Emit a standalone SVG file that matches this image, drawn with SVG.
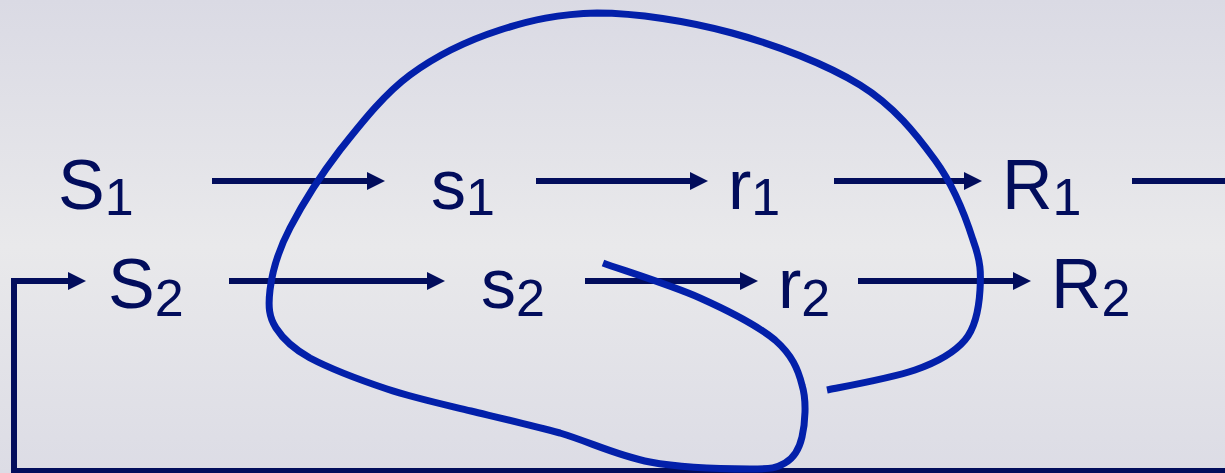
<svg xmlns="http://www.w3.org/2000/svg" width="1225" height="473" viewBox="0 0 1225 473">
  <defs>
    <linearGradient id="bg" x1="0" y1="0" x2="0" y2="1">
      <stop offset="0" stop-color="#dadae4"/>
      <stop offset="0.52" stop-color="#e9e9eb"/>
      <stop offset="1" stop-color="#dcdce5"/>
    </linearGradient>
    <marker id="ah" markerUnits="userSpaceOnUse" markerWidth="20" markerHeight="20" refX="1" refY="9" orient="auto">
      <path d="M0,0 L18,9 L0,18 z" fill="#020d5c"/>
    </marker>
    <style>
      .lbl { font-family: "Liberation Sans", Arial, sans-serif; font-size: 70px; fill: #020d5c; }
      .sub { font-size: 52px; }
      .conn { stroke: #020d5c; stroke-width: 6; fill: none; stroke-linejoin: miter; }
      .arr { marker-end: url(#ah); }
      .loop { stroke: #0320aa; stroke-width: 7; fill: none; stroke-linecap: butt; stroke-linejoin: round; }
    </style>
  </defs>
  <rect x="0" y="0" width="1225" height="473" fill="url(#bg)"/>

  <g id="connectors">
    <line class="conn arr" x1="212" y1="181" x2="368" y2="181"/>
    <line class="conn arr" x1="536" y1="181" x2="691" y2="181"/>
    <line class="conn arr" x1="834" y1="181" x2="965" y2="181"/>
    <line class="conn" x1="1132" y1="181" x2="1225" y2="181"/>
    <path class="conn arr" d="M1225,471 H14 V281 H69"/>
    <line class="conn arr" x1="229" y1="281" x2="428" y2="281"/>
    <line class="conn arr" x1="585" y1="281" x2="741" y2="281"/>
    <line class="conn arr" x1="858" y1="281" x2="1014" y2="281"/>
  </g>

  <g id="S1"><text class="lbl" x="58" y="209">S<tspan class="sub" dy="6">1</tspan></text></g>
  <g id="s1"><text class="lbl" x="431" y="209">s<tspan class="sub" dy="6">1</tspan></text></g>
  <g id="r1"><text class="lbl" x="728" y="209">r<tspan class="sub" dy="6">1</tspan></text></g>
  <g id="R1"><text class="lbl" x="1002" y="209">R<tspan class="sub" dy="6">1</tspan></text></g>
  <g id="S2"><text class="lbl" x="108" y="308">S<tspan class="sub" dy="8">2</tspan></text></g>
  <g id="s2"><text class="lbl" x="481" y="308">s<tspan class="sub" dy="8">2</tspan></text></g>
  <g id="r2"><text class="lbl" x="778" y="308">r<tspan class="sub" dy="8">2</tspan></text></g>
  <g id="R2"><text class="lbl" x="1051" y="308">R<tspan class="sub" dy="8">2</tspan></text></g>

  <g id="loop">
    <path class="loop" d="M603,263 C619,269 671,285 700,298 C729,311 758,326 775,340 C792,355 798,369 802,385 C807,401 805,424 802,437 C799,450 794,458 785,463 C776,468 773,469 750,469 C728,469 682,468 650,462 C618,456 590,442 560,433 C530,425 500,418 471,411 C442,404 414,398 387,389 C360,380 329,368 310,358 C292,348 283,339 276,328 C269,317 268,307 270,290 C272,273 278,251 290,228 C302,205 320,176 340,150 C360,125 383,95 410,75 C437,55 469,40 500,30 C531,20 558,14 597,13 C636,13 688,21 732,33 C776,45 826,64 860,85 C894,106 916,134 935,160 C954,186 966,218 973,240 C981,262 981,273 980,290 C979,307 976,327 965,340 C954,353 938,362 915,370 C892,378 842,387 827,390"/>
  </g>
</svg>
